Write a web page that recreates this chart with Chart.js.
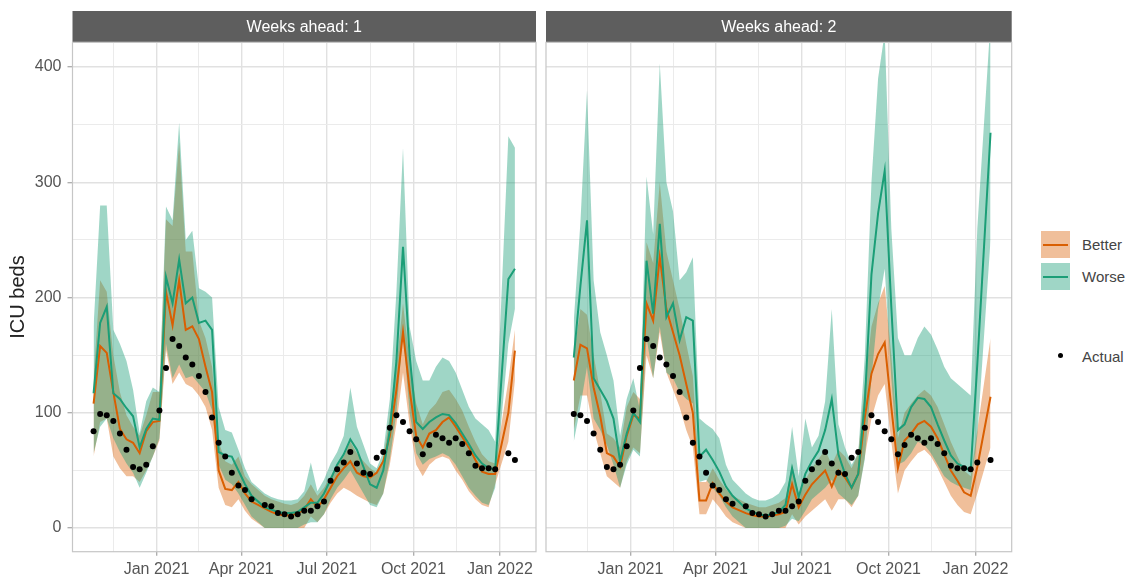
<!DOCTYPE html>
<html>
<head>
<meta charset="utf-8">
<title>ICU beds forecasts</title>
<script src="https://cdn.jsdelivr.net/npm/chart.js@4/dist/chart.umd.min.js"></script>
<style>
  html, body { margin: 0; padding: 0; background: #fff; }
  #wrap { position: relative; width: 1132px; height: 578px; overflow: hidden;
          font-family: "Liberation Sans", Arial, Helvetica, sans-serif; }
  canvas { position: absolute; top: 0; }
  #week1 { left: 0; }
  #week2 { left: 540px; }
  .key { position: absolute; left: 1041px; width: 29px; height: 27px; }
  .key span { position: absolute; left: 2px; right: 2px; top: 12.5px; height: 2px; }
  .lab { position: absolute; left: 1082px; font-size: 15px; color: #444; line-height: 18px; }
  .dot { position: absolute; left: 1057.5px; top: 352.5px; width: 5px; height: 5px; border-radius: 50%; background: #000; }
</style>
</head>
<body>
<div id="wrap">
  <canvas id="week1" width="540" height="578"></canvas>
  <canvas id="week2" width="480" height="578"></canvas>
  <div class="key" style="top:231px;background:rgba(217,95,2,0.40)"><span style="background:#D95F02"></span></div>
  <div class="lab" style="top:236px">Better</div>
  <div class="key" style="top:263px;background:rgba(27,158,119,0.42)"><span style="background:#1B9E77"></span></div>
  <div class="lab" style="top:268px">Worse</div>
  <div class="dot"></div>
  <div class="lab" style="top:348px">Actual</div>
</div>
<script>
// Weekly reporting dates
const weekDates = [
  '2020-10-26','2020-11-02','2020-11-09','2020-11-16','2020-11-23','2020-11-30','2020-12-07','2020-12-14','2020-12-21','2020-12-28',
  '2021-01-04','2021-01-11','2021-01-18','2021-01-25','2021-02-01','2021-02-08','2021-02-15','2021-02-22','2021-03-01','2021-03-08',
  '2021-03-15','2021-03-22','2021-03-29','2021-04-05','2021-04-12','2021-04-19','2021-04-26','2021-05-03','2021-05-10','2021-05-17',
  '2021-05-24','2021-05-31','2021-06-07','2021-06-14','2021-06-21','2021-06-28','2021-07-05','2021-07-12','2021-07-19','2021-07-26',
  '2021-08-02','2021-08-09','2021-08-16','2021-08-23','2021-08-30','2021-09-06','2021-09-13','2021-09-20','2021-09-27','2021-10-04',
  '2021-10-11','2021-10-18','2021-10-25','2021-11-01','2021-11-08','2021-11-15','2021-11-22','2021-11-29','2021-12-06','2021-12-13',
  '2021-12-20','2021-12-27','2022-01-03','2022-01-10','2022-01-17'
];

// Observed ICU occupancy, as matched to each forecast horizon
const actualWeek1 = [84,99,98,93,82,68,53,51,55,71, 102,139,164,158,148,142,132,118,96,74, 62,48,37,33,25,null,20,19,13,12,
  10,12,15,15,19,23,41,51,57,66, 56,48,47,61,66,87,98,92,84,77, 64,72,81,78,74,78,73,65,54,52, 52,51,null,65,59];
const actualWeek2 = [null,99,98,93,82,68,53,51,55,71, 102,139,164,158,148,142,132,118,96,74, 62,48,37,33,25,21,null,19,13,12,
  10,12,15,15,19,23,41,51,57,66, 56,48,47,61,66,87,98,92,84,77, 64,72,81,78,74,78,73,65,54,52, 52,51,57,null,59];

// One week ahead: "Worse" scenario median and interval
const worseWeek1 = [117,178,192,117,112,104,97,70,86,95, 94,218,195,233,195,200,178,180,172,66, 63,62,50,38,28,null,18,16,14,13,
  13,14,18,22,22,30,42,55,64,77, 68,53,38,35,50,85,145,244,150,92, 86,92,96,99,98,91,82,73,63,56, 52,51,null,216,225];
const worseLoWeek1 = [65,88,95,78,66,56,48,35,48,62, 78,160,130,142,130,132,125,118,102,55, 42,38,30,20,10,null,0,0,0,0,
  0,0,3,5,5,12,25,35,42,50, 40,30,20,18,30,60,100,170,100,65, 55,60,62,65,62,55,45,35,28,22, 20,35,null,160,190];
const worseHiWeek1 = [175,280,280,172,160,145,120,82,110,122, 118,279,267,352,250,258,208,205,200,105, 85,83,68,52,40,null,30,27,25,24,
  24,25,32,57,32,42,56,66,80,122, 88,72,56,52,66,112,205,330,175,145, 128,128,140,148,145,135,120,105,95,90, 85,75,null,340,330];

// One week ahead: "Better" scenario median and interval
const betterWeek1 = [108,158,152,118,86,77,74,65,84,92, 93,205,176,215,172,175,164,140,118,50, 34,33,40,30,23,null,17,14,12,11,
  11,13,16,25,18,25,35,45,52,58, 48,45,44,48,58,80,120,170,120,80, 70,82,85,92,96,88,79,70,59,49, 47,47,null,100,154];
const betterLoWeek1 = [62,92,95,62,52,45,45,40,50,62, 76,155,125,135,125,122,115,105,85,35, 20,18,25,15,8,null,0,0,0,0,
  0,0,0,10,5,12,22,30,35,32, 28,25,22,20,30,55,90,135,90,55, 45,55,60,62,60,50,42,32,25,20, 18,38,null,75,128];
const betterHiWeek1 = [130,215,205,150,118,98,88,80,98,118, 118,268,262,335,240,240,180,165,140,75, 58,55,62,45,38,null,28,25,23,21,
  20,22,28,38,28,35,45,55,62,75, 65,58,52,48,60,98,140,195,145,108, 90,102,108,118,120,112,102,88,75,64, 58,56,null,128,172];

// Two weeks ahead: "Worse" scenario median and interval
const worseWeek2 = [null,148,210,267,130,120,110,95,58,82, 100,92,232,186,264,183,195,163,183,180, 62,68,59,49,36,28,null,17,14,12,
  11,12,14,20,52,27,47,58,67,85, 112,64,47,35,47,110,220,273,310,192, 85,90,105,113,112,105,90,76,63,56, 53,50,142,null,343];
const worseLoWeek2 = [null,75,105,140,95,85,72,55,35,55, 68,62,165,130,175,135,130,118,112,108, 40,42,35,28,18,10,null,0,0,0,
  0,0,0,2,8,6,15,25,30,35, 42,30,25,20,28,60,130,190,225,130, 55,58,65,75,72,65,55,45,40,37, 35,33,80,null,250];
const worseHiWeek2 = [null,180,265,380,215,170,150,128,80,112, 130,102,305,255,403,300,275,215,222,235, 95,90,86,78,55,42,null,30,26,24,
  24,26,30,40,88,45,95,70,80,110, 190,90,70,55,65,150,300,390,430,260, 165,150,150,165,175,168,155,140,130,125, 120,115,260,null,440];

// Two weeks ahead: "Better" scenario median and interval
const betterWeek2 = [null,128,159,156,122,97,65,62,53,80, 98,95,195,180,235,190,170,150,125,100, 24,24,39,30,23,18,null,13,11,10,
  10,11,12,14,38,18,29,38,44,50, 36,50,44,35,47,96,134,151,161,105, 52,76,82,90,93,88,78,64,50,41, 31,28,53,null,114];
const betterLoWeek2 = [null,85,115,115,85,65,45,40,35,58, 70,65,150,130,170,135,120,105,85,70, 12,12,25,18,10,5,null,0,0,0,
  0,0,0,0,12,3,10,15,20,25, 15,25,25,18,28,62,95,115,125,75, 30,50,58,65,68,62,52,40,28,20, 14,12,30,null,70];
const betterHiWeek2 = [null,150,190,185,150,118,82,78,70,105, 118,112,248,230,300,240,215,190,160,132, 40,40,52,42,34,28,null,22,20,18,
  18,20,22,26,55,30,42,52,60,68, 55,68,62,52,65,125,175,195,210,150, 78,100,108,115,120,115,105,90,75,62, 50,45,85,null,165];

// Axis ticks
const xTickDates  = ['2021-01-01','2021-04-01','2021-07-01','2021-10-01','2022-01-01'];
const xTickLabels = ['Jan 2021','Apr 2021','Jul 2021','Oct 2021','Jan 2022'];
const xMinorDates = ['2020-11-16','2021-02-15','2021-05-16','2021-08-16','2021-11-16'];
const yTicks      = [0, 100, 200, 300, 400];
const yMinorTicks = [50, 150, 250, 350];
const yLimits     = [-20.5, 421.5];

const FONT = '"Liberation Sans", Arial, Helvetica, sans-serif';
const GREEN = '#1B9E77', ORANGE = '#D95F02';
const GREEN_FILL = 'rgba(27,158,119,0.42)', ORANGE_FILL = 'rgba(217,95,2,0.40)';
const GRID_MAJOR = '#E1E1E1', GRID_MINOR = '#EBEBEB';
const NONE = 'rgba(0,0,0,0)';

const dayOf = s => Date.parse(s + 'T00:00:00Z') / 86400000;
const xs = weekDates.map(dayOf);
const span = xs[xs.length - 1] - xs[0];
const xLimits = [xs[0] - 0.05 * span, xs[xs.length - 1] + 0.05 * span];
const majorX = xTickDates.map(dayOf);
const minorX = xMinorDates.map(dayOf);

const pts = values => values.map((v, i) => ({ x: xs[i], y: v }));
const isMajorX = v => majorX.indexOf(v) >= 0;
const isMajorY = v => yTicks.indexOf(v) >= 0;

// Facet strip above each panel and the panel frame
const panelDecor = {
  id: 'panelDecor',
  beforeDraw(chart, args, opts) {
    const { ctx, chartArea: a } = chart;
    ctx.save();
    ctx.fillStyle = '#5E5E5E';
    ctx.fillRect(a.left, 11, a.right - a.left, a.top - 11);
    ctx.fillStyle = '#FFFFFF';
    ctx.font = '16px ' + FONT;
    ctx.textAlign = 'center';
    ctx.textBaseline = 'middle';
    ctx.fillText(opts.title, (a.left + a.right) / 2, (11 + a.top) / 2 + 1);
    ctx.restore();
  },
  afterDraw(chart) {
    const { ctx, chartArea: a } = chart;
    ctx.save();
    ctx.strokeStyle = '#C6C6C6';
    ctx.lineWidth = 1.2;
    ctx.strokeRect(a.left, a.top, a.right - a.left, a.bottom - a.top);
    ctx.restore();
  }
};

function buildDatasets(actual, worse, worseLo, worseHi, better, betterLo, betterHi) {
  const band = (data, colour, order, fill) => ({
    data: pts(data), borderColor: NONE, borderWidth: 0, pointRadius: 0, spanGaps: true,
    fill: fill, backgroundColor: colour, order: order
  });
  return [
    { label: 'Actual', data: pts(actual), showLine: false, pointRadius: 3, pointBorderWidth: 0,
      pointBackgroundColor: '#000000', order: 0 },
    { label: 'Worse', data: pts(worse), borderColor: GREEN, borderWidth: 2, pointRadius: 0, spanGaps: true, fill: false, order: 1 },
    { label: 'Better', data: pts(better), borderColor: ORANGE, borderWidth: 2, pointRadius: 0, spanGaps: true, fill: false, order: 2 },
    band(worseHi, GREEN_FILL, 3, '+1'),
    band(worseLo, NONE, 3, false),
    band(betterHi, ORANGE_FILL, 4, '+1'),
    band(betterLo, NONE, 4, false)
  ];
}

function buildOptions(title, showY) {
  return {
    responsive: false, animation: false, devicePixelRatio: 1,
    layout: { padding: showY ? { left: 0, right: 3.6, top: 42.3, bottom: 0 }
                             : { left: 6, right: 8.3, top: 42.3, bottom: 0 } },
    elements: { line: { tension: 0 } },
    plugins: { legend: { display: false }, tooltip: { enabled: false }, panelDecor: { title: title } },
    scales: {
      x: {
        type: 'linear', min: xLimits[0], max: xLimits[1],
        afterBuildTicks: ax => {
          ax.ticks = majorX.concat(minorX).sort((a, b) => a - b).map(v => ({ value: v }));
        },
        ticks: {
          autoSkip: false, maxRotation: 0, minRotation: 0, padding: 4,
          color: '#555555', font: { family: FONT, size: 16 },
          callback: v => { const k = majorX.indexOf(v); return k >= 0 ? xTickLabels[k] : ''; }
        },
        grid: {
          color: c => isMajorX(c.tick.value) ? GRID_MAJOR : GRID_MINOR,
          lineWidth: c => isMajorX(c.tick.value) ? 1.4 : 1,
          tickLength: 4, tickWidth: 1.3,
          tickColor: c => isMajorX(c.tick.value) ? '#ABABAB' : NONE
        },
        border: { display: false },
        afterFit: s => { s.height = 26.3; }
      },
      y: {
        type: 'linear', min: yLimits[0], max: yLimits[1],
        afterBuildTicks: ax => {
          ax.ticks = yTicks.concat(yMinorTicks).sort((a, b) => a - b).map(v => ({ value: v }));
        },
        ticks: {
          display: showY, padding: 6, color: '#555555', font: { family: FONT, size: 16 },
          callback: v => isMajorY(v) ? String(v) : ''
        },
        grid: {
          color: c => isMajorY(c.tick.value) ? GRID_MAJOR : GRID_MINOR,
          lineWidth: c => isMajorY(c.tick.value) ? 1.4 : 1,
          drawTicks: showY, tickLength: 5, tickWidth: 1.3,
          tickColor: c => isMajorY(c.tick.value) ? '#ABABAB' : NONE
        },
        border: { display: false },
        title: { display: showY, text: 'ICU beds', color: '#222222',
                 font: { family: FONT, size: 20 }, padding: { top: 6, bottom: 0 } },
        afterFit: s => { s.width = showY ? 72.5 : 0; }
      }
    }
  };
}

new Chart(document.getElementById('week1'), {
  type: 'line',
  data: { datasets: buildDatasets(actualWeek1, worseWeek1, worseLoWeek1, worseHiWeek1, betterWeek1, betterLoWeek1, betterHiWeek1) },
  options: buildOptions('Weeks ahead: 1', true),
  plugins: [panelDecor]
});

new Chart(document.getElementById('week2'), {
  type: 'line',
  data: { datasets: buildDatasets(actualWeek2, worseWeek2, worseLoWeek2, worseHiWeek2, betterWeek2, betterLoWeek2, betterHiWeek2) },
  options: buildOptions('Weeks ahead: 2', false),
  plugins: [panelDecor]
});
</script>
</body>
</html>
